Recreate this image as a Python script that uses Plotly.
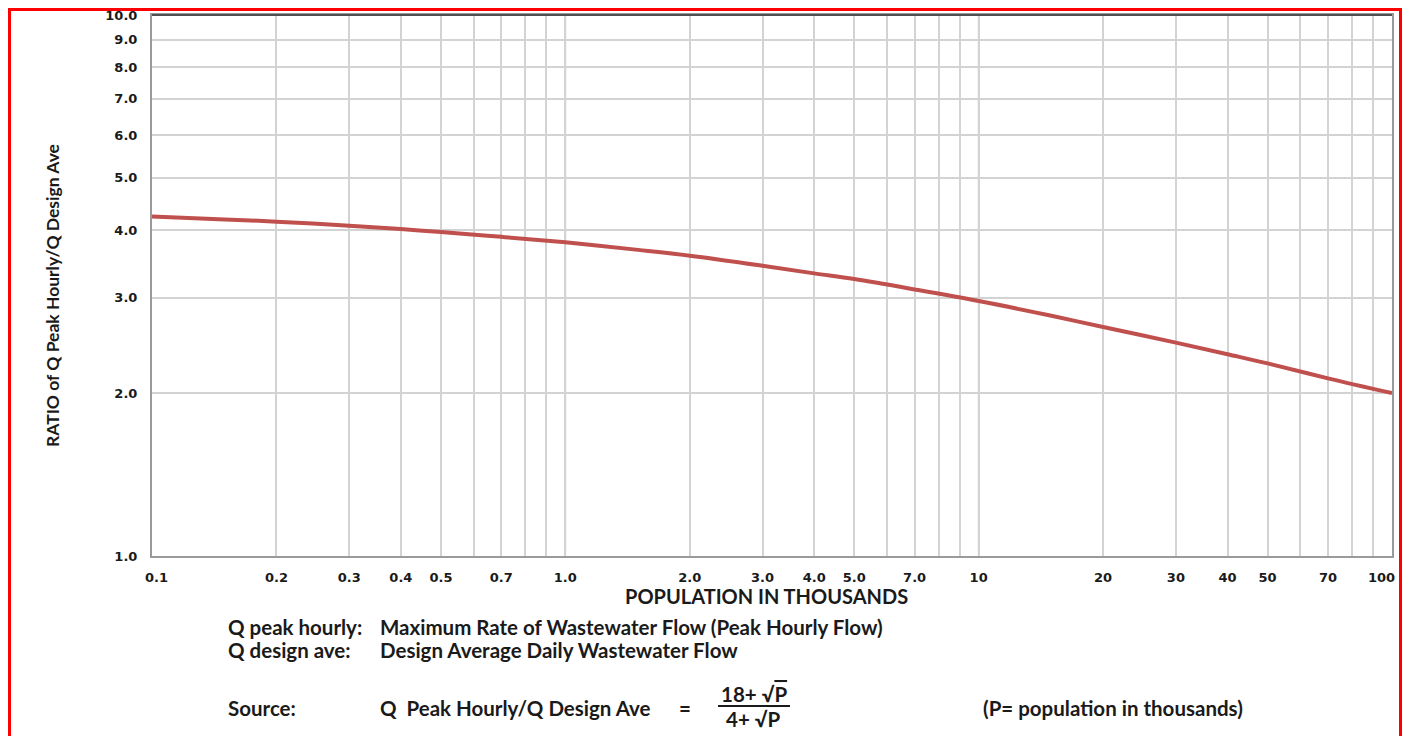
import plotly.graph_objects as go

# Data
population = [0.1, 0.15, 0.2, 0.3, 0.4, 0.5, 0.7, 1.0, 1.5, 2.0, 3.0, 4.0, 5.0, 7.0,
              10, 15, 20, 30, 40, 50, 70, 100]
ratio = [4.24, 4.19, 4.15, 4.08, 4.02, 3.97, 3.89, 3.80, 3.68, 3.59, 3.44, 3.33, 3.25, 3.11,
         2.96, 2.78, 2.65, 2.48, 2.36, 2.27, 2.13, 2.00]

x_tickvals = [0.1, 0.2, 0.3, 0.4, 0.5, 0.6, 0.7, 0.8, 0.9, 1, 2, 3, 4, 5, 6, 7, 8, 9,
              10, 20, 30, 40, 50, 60, 70, 80, 90, 100]
x_ticktext = ["0.1", "0.2", "0.3", "0.4", "0.5", "", "0.7", "", "", "1.0", "2.0", "3.0",
              "4.0", "5.0", "", "7.0", "", "", "10", "20", "30", "40", "50", "", "70", "",
              "", "100"]
y_tickvals = [1, 2, 3, 4, 5, 6, 7, 8, 9, 10]
y_ticktext = ["1.0", "2.0", "3.0", "4.0", "5.0", "6.0", "7.0", "8.0", "9.0", "10.0"]

# page body adds an 8px offset; figure is sized so the page fills the window
OFF = 8
W, H = 1394, 728
L, T = 152 - OFF, 15 - OFF
PW, PH = 1240, 541
R, B = W - L - PW, H - T - PH


def px(x):
    return (x - OFF - L) / PW


def py(y):
    return (H - B - (y - OFF)) / PH


TXT = "Lato"
TICK = dict(family="DejaVu Sans", size=13, color="#1a1a1a", weight="bold")

# edge labels are nudged inward (as in the reference); drawn as annotations
edge_labels = {x_ticktext[0]: 156.5, x_ticktext[-1]: 1381}
axis_ticktext = [("" if i in (0, len(x_ticktext) - 1) else t)
                 for i, t in enumerate(x_ticktext)]

fig = go.Figure()
fig.add_trace(go.Scatter(x=population, y=ratio, mode="lines",
                         line=dict(color="#C0504D", width=4, shape="spline"),
                         showlegend=False, hoverinfo="skip"))

fig.update_xaxes(type="log", range=[-1, 2], tickvals=x_tickvals, ticktext=axis_ticktext,
                 showgrid=True, gridcolor="#d3d3d3", gridwidth=1.5, automargin=False,
                 showline=True, linecolor="#9a9a9a", linewidth=2, mirror=True,
                 ticks="", tickfont=TICK, ticklabelstandoff=8, zeroline=False,
                 ticklabeloverflow="allow")
fig.update_yaxes(type="log", range=[0, 1], tickvals=y_tickvals, ticktext=y_ticktext,
                 showgrid=True, gridcolor="#d3d3d3", gridwidth=1.5, automargin=False,
                 showline=True, linecolor="#9a9a9a", linewidth=2, mirror=True,
                 ticks="", tickfont=TICK, ticklabelstandoff=10, zeroline=False,
                 ticklabeloverflow="allow")

shapes = []
# darker decade gridlines
for xv in [1, 10]:
    shapes.append(dict(type="line", xref="x", yref="paper", x0=xv, x1=xv, y0=0, y1=1,
                       line=dict(color="#8a8a8a", width=1.5), layer="below"))
# dark top border
shapes.append(dict(type="line", xref="paper", yref="paper", x0=0, x1=1, y0=1, y1=1,
                   line=dict(color="#505050", width=2)))
# red frame
shapes.append(dict(type="rect", xref="paper", yref="paper",
                   x0=px(9.5), x1=px(1400.5), y0=py(9.5), y1=py(760),
                   line=dict(color="#FF0000", width=3)))
# fraction bar
shapes.append(dict(type="line", xref="paper", yref="paper",
                   x0=px(718), x1=px(790), y0=py(706), y1=py(706),
                   line=dict(color="#1a1a1a", width=2)))

F = dict(family=TXT, size=20, color="#1a1a1a", weight="bold")
ann = []


def add(text, x, y, xanchor="left", size=20.5, angle=0, font=None):
    f = dict(font or F)
    if font is None:
        f["size"] = size
    ann.append(dict(text=text, x=px(x), y=py(y), xref="paper", yref="paper",
                    xanchor=xanchor, yanchor="middle", showarrow=False, font=f,
                    textangle=angle))


for lab, xpos in edge_labels.items():
    add(lab, xpos, 577, "center", font=TICK)

add("POPULATION IN THOUSANDS", 766, 596, "center", size=20)
add("RATIO of Q Peak Hourly/Q Design Ave", 52, 296, "center", size=17.5, angle=-90)
add("Q peak hourly:", 226, 627)
add("Maximum Rate of Wastewater Flow (Peak Hourly Flow)", 378, 627)
add("Q design ave:", 226, 650)
add("Design Average Daily Wastewater Flow", 378, 650)
add("Source:", 226, 708)
add("Q  Peak Hourly/Q Design Ave", 378, 708)
add("=", 685, 708, "center")
add("18+ √<span style='text-decoration:overline'>P</span>", 754, 694, "center")
add("4+ √<span style='text-decoration:overline'>P</span>", 753, 719, "center")
add("(P= population in thousands)", 981, 708)

fig.update_layout(width=W, height=H, margin=dict(l=L, r=R, t=T, b=B),
                  paper_bgcolor="white", plot_bgcolor="white",
                  shapes=shapes, annotations=ann)

fig.write_html("out.html")
